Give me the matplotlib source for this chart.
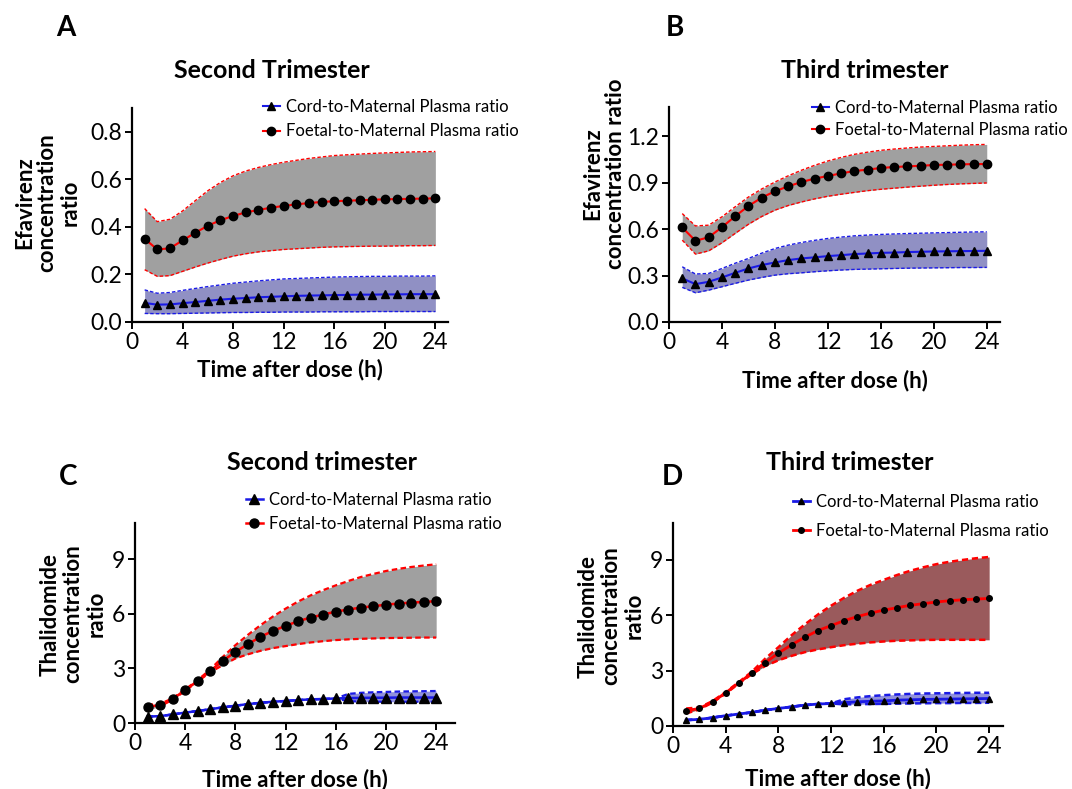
import matplotlib
matplotlib.use("Agg")
import matplotlib.pyplot as plt
import numpy as np

plt.rcParams['font.family'] = ['Lato', 'DejaVu Sans']

hours = list(range(1, 25))

# Panel A - Efavirenz, second trimester
a_foetal = [0.35,0.305,0.31,0.343,0.375,0.405,0.428,0.446,0.461,0.471,0.481,0.488,0.495,0.500,0.505,0.508,0.510,0.512,0.514,0.516,0.517,0.518,0.519,0.520]
a_foetal_hi = [0.477,0.422,0.432,0.467,0.51,0.552,0.587,0.615,0.635,0.65,0.662,0.672,0.68,0.688,0.694,0.70,0.703,0.706,0.709,0.711,0.713,0.715,0.716,0.717]
a_foetal_lo = [0.22,0.192,0.195,0.213,0.231,0.248,0.263,0.277,0.287,0.295,0.300,0.305,0.308,0.311,0.314,0.316,0.317,0.318,0.319,0.319,0.320,0.321,0.321,0.322]
a_cord = [0.08,0.073,0.074,0.079,0.084,0.089,0.094,0.098,0.101,0.104,0.106,0.108,0.110,0.111,0.112,0.113,0.114,0.115,0.115,0.116,0.116,0.117,0.117,0.117]
a_cord_hi = [0.135,0.121,0.124,0.133,0.141,0.149,0.156,0.163,0.168,0.173,0.177,0.181,0.183,0.185,0.187,0.189,0.190,0.191,0.192,0.192,0.193,0.193,0.193,0.194]
a_cord_lo = [0.036,0.035,0.035,0.036,0.037,0.038,0.039,0.040,0.040,0.041,0.041,0.042,0.042,0.042,0.043,0.043,0.043,0.043,0.044,0.044,0.044,0.044,0.044,0.044]

# Panel B - Efavirenz, third trimester
b_foetal = [0.611,0.525,0.548,0.613,0.684,0.75,0.804,0.845,0.877,0.905,0.927,0.944,0.961,0.976,0.985,0.996,1.002,1.006,1.010,1.015,1.017,1.019,1.021,1.021]
b_foetal_hi = [0.701,0.621,0.626,0.68,0.745,0.808,0.86,0.905,0.945,0.981,1.013,1.041,1.064,1.084,1.098,1.11,1.118,1.125,1.131,1.135,1.139,1.143,1.146,1.148]
b_foetal_lo = [0.529,0.439,0.46,0.512,0.573,0.632,0.682,0.723,0.753,0.776,0.796,0.813,0.826,0.838,0.849,0.858,0.865,0.872,0.878,0.884,0.889,0.893,0.896,0.899]
b_cord = [0.282,0.245,0.26,0.288,0.318,0.346,0.368,0.385,0.40,0.411,0.418,0.426,0.432,0.439,0.443,0.447,0.449,0.452,0.454,0.456,0.457,0.458,0.459,0.46]
b_cord_hi = [0.357,0.31,0.314,0.346,0.38,0.411,0.445,0.475,0.497,0.514,0.528,0.54,0.549,0.557,0.562,0.566,0.569,0.572,0.574,0.576,0.578,0.580,0.582,0.583]
b_cord_lo = [0.224,0.189,0.206,0.228,0.25,0.271,0.288,0.303,0.312,0.318,0.325,0.331,0.336,0.340,0.342,0.344,0.346,0.348,0.349,0.350,0.351,0.352,0.352,0.353]

# Panel C - Thalidomide, second trimester
c_foetal = [0.89,0.99,1.32,1.81,2.32,2.87,3.42,3.91,4.34,4.74,5.07,5.34,5.60,5.80,5.96,6.13,6.24,6.35,6.42,6.51,6.57,6.62,6.66,6.70]
c_foetal_hi = [1.0,1.05,1.36,1.85,2.36,2.95,3.64,4.28,4.85,5.38,5.86,6.29,6.68,7.02,7.31,7.57,7.81,8.03,8.2,8.36,8.48,8.58,8.66,8.73]
c_foetal_lo = [0.7,0.92,1.28,1.77,2.28,2.8,3.18,3.55,3.78,3.97,4.12,4.23,4.34,4.43,4.5,4.56,4.6,4.63,4.65,4.67,4.68,4.69,4.7,4.7]
c_cord = [0.35,0.38,0.47,0.57,0.66,0.76,0.86,0.95,1.04,1.11,1.17,1.21,1.26,1.30,1.32,1.35,1.37,1.38,1.39,1.39,1.40,1.40,1.40,1.40]
c_cord_hi = [0.35,0.38,0.47,0.57,0.66,0.76,0.86,0.95,1.04,1.11,1.17,1.21,1.26,1.30,1.32,1.35,1.60,1.66,1.69,1.71,1.73,1.74,1.75,1.76]
c_cord_lo = [0.35,0.38,0.47,0.57,0.66,0.76,0.86,0.95,1.04,1.11,1.17,1.21,1.26,1.30,1.32,1.35,1.20,1.18,1.17,1.17,1.17,1.17,1.17,1.17]

# Panel D - Thalidomide, third trimester
d_foetal = [0.83,0.95,1.31,1.80,2.34,2.88,3.43,3.95,4.40,4.81,5.17,5.44,5.71,5.93,6.12,6.28,6.41,6.54,6.63,6.72,6.79,6.84,6.88,6.91]
d_foetal_hi = [0.95,1.0,1.35,1.84,2.38,2.95,3.65,4.27,4.92,5.5,6.04,6.52,6.95,7.33,7.65,7.92,8.18,8.41,8.6,8.77,8.9,9.0,9.09,9.16]
d_foetal_lo = [0.68,0.9,1.27,1.76,2.3,2.82,3.25,3.56,3.8,4.0,4.15,4.27,4.38,4.46,4.53,4.58,4.62,4.64,4.66,4.67,4.67,4.67,4.67,4.67]
d_cord = [0.32,0.36,0.45,0.56,0.65,0.74,0.86,0.95,1.04,1.13,1.19,1.22,1.27,1.31,1.34,1.36,1.40,1.42,1.44,1.45,1.46,1.47,1.48,1.49]
d_cord_hi = [0.32,0.36,0.45,0.56,0.65,0.74,0.86,0.95,1.04,1.13,1.19,1.22,1.45,1.55,1.62,1.67,1.71,1.74,1.76,1.77,1.78,1.79,1.80,1.80]
d_cord_lo = [0.32,0.36,0.45,0.56,0.65,0.74,0.86,0.95,1.04,1.13,1.19,1.22,1.17,1.18,1.19,1.20,1.21,1.22,1.23,1.24,1.24,1.25,1.25,1.26]

cord_label = "Cord-to-Maternal Plasma ratio"
foetal_label = "Foetal-to-Maternal Plasma ratio"

W, H = 1072, 789
fig = plt.figure(figsize=(W/100, H/100), dpi=100)

def px_axes(l, r, b, t):
    return fig.add_axes([l/W, 1 - b/H, (r-l)/W, (b-t)/H])

panels = [
    dict(box=(132, 448, 322, 108), xlim=25, ylim=0.9, yticks=[0,0.2,0.4,0.6,0.8], yfmt="{:.1f}",
         data=(a_foetal, a_foetal_hi, a_foetal_lo, a_cord, a_cord_hi, a_cord_lo),
         ylabel="Efavirenz\nconcentration\nratio", ylab_xy=(47, 203), xlabpad=4,
         title="Second Trimester", title_xy=(272, 70),
         letter="A", letter_xy=(66, 28), leg_xy=(263, 99), leg_sp=0.5, fcolor='#a0a0a0', ccolor='#9090c4',
         ms=6, band_lw=1.0, line_lw=1.5, cord_lw=1.5),
    dict(box=(669, 1000, 322, 107), xlim=25, ylim=1.39, yticks=[0,0.3,0.6,0.9,1.2], yfmt="{:.1f}",
         data=(b_foetal, b_foetal_hi, b_foetal_lo, b_cord, b_cord_hi, b_cord_lo),
         ylabel="Efavirenz\nconcentration ratio", ylab_xy=(604, 174), xlabpad=12,
         title="Third trimester", title_xy=(865, 70),
         letter="B", letter_xy=(675, 28), leg_xy=(812, 100), leg_sp=0.35, fcolor='#a0a0a0', ccolor='#9090c4',
         ms=6, band_lw=1.0, line_lw=1.5, cord_lw=1.5),
    dict(box=(135, 455, 723, 523), xlim=25.5, ylim=11, yticks=[0,3,6,9], yfmt="{:.0f}",
         data=(c_foetal, c_foetal_hi, c_foetal_lo, c_cord, c_cord_hi, c_cord_lo),
         ylabel="Thalidomide\nconcentration\nratio", ylab_xy=(73, 614), xlabpad=11,
         title="Second trimester", title_xy=(322, 462),
         letter="C", letter_xy=(68, 477), leg_xy=(246, 492), leg_sp=0.5, fcolor='#a0a0a0', ccolor='#9090dc',
         ms=6.5, band_lw=1.6, line_lw=1.8, cord_lw=1.8),
    dict(box=(673, 1003, 726, 523), xlim=25.05, ylim=11, yticks=[0,3,6,9], yfmt="{:.0f}",
         data=(d_foetal, d_foetal_hi, d_foetal_lo, d_cord, d_cord_hi, d_cord_lo),
         ylabel="Thalidomide\nconcentration\nratio", ylab_xy=(611, 616), xlabpad=8,
         title="Third trimester", title_xy=(850, 463),
         letter="D", letter_xy=(672, 477), leg_xy=(793, 494), leg_sp=0.75, fcolor='#9a5a5c', ccolor='#9090dc',
         ms=4, band_lw=1.8, line_lw=2.0, cord_lw=2.0),
]

for p in panels:
    l, r, b, t = p['box']
    ax = px_axes(l, r, b, t)
    fo, fhi, flo, co, chi, clo = p['data']
    # bands
    ax.fill_between(hours, flo, fhi, color=p['fcolor'], lw=0, zorder=1)
    ax.plot(hours, fhi, ls=(0, (2.5, 1.5)), color='red', lw=p['band_lw'], zorder=2)
    ax.plot(hours, flo, ls=(0, (2.5, 1.5)), color='red', lw=p['band_lw'], zorder=2)
    ax.fill_between(hours, clo, chi, color=p['ccolor'], lw=0, zorder=1)
    ax.plot(hours, chi, ls=(0, (2.5, 1.5)), color='#1a1ae6', lw=p['band_lw'], zorder=2)
    ax.plot(hours, clo, ls=(0, (2.5, 1.5)), color='#1a1ae6', lw=p['band_lw'], zorder=2)
    # mean lines
    ax.plot(hours, co, color='#1a1ae6', lw=p['cord_lw'], marker='^', ms=p['ms'], mfc='black', mec='black',
            zorder=3, label=cord_label)
    ax.plot(hours, fo, color='red', lw=p['line_lw'], marker='o', ms=p['ms'], mfc='black', mec='black',
            zorder=4, label=foetal_label)
    ax.set_xlim(0, p['xlim'])
    ax.set_ylim(0, p['ylim'])
    ax.set_xticks([0, 4, 8, 12, 16, 20, 24])
    ax.set_yticks(p['yticks'])
    ax.set_yticklabels([p['yfmt'].format(v) for v in p['yticks']])
    for s in ['top', 'right']:
        ax.spines[s].set_visible(False)
    for s in ['left', 'bottom']:
        ax.spines[s].set_linewidth(1.6)
    ax.tick_params(axis='both', direction='out', length=5, width=1.4, labelsize=16.5, pad=2)
    ax.set_xlabel("Time after dose (h)", fontsize=16, fontweight='bold', labelpad=p['xlabpad'])
    fig.text(p['ylab_xy'][0]/W, 1 - p['ylab_xy'][1]/H, p['ylabel'], rotation=90, ha='center', va='center',
             fontsize=16, fontweight='bold', linespacing=1.1)
    fig.text(p['title_xy'][0]/W, 1 - p['title_xy'][1]/H, p['title'], ha='center', va='center',
             fontsize=18, fontweight='bold')
    fig.text(p['letter_xy'][0]/W, 1 - p['letter_xy'][1]/H, p['letter'], ha='center', va='center',
             fontsize=20, fontweight='bold')
    ax.legend(loc='upper left', bbox_to_anchor=(p['leg_xy'][0]/W, 1 - p['leg_xy'][1]/H),
              bbox_transform=fig.transFigure, frameon=False, fontsize=12, handlelength=1.0,
              handletextpad=0.4, labelspacing=p['leg_sp'], borderpad=0, borderaxespad=0, markerscale=1.0)

fig.savefig("out.png", dpi=100)
